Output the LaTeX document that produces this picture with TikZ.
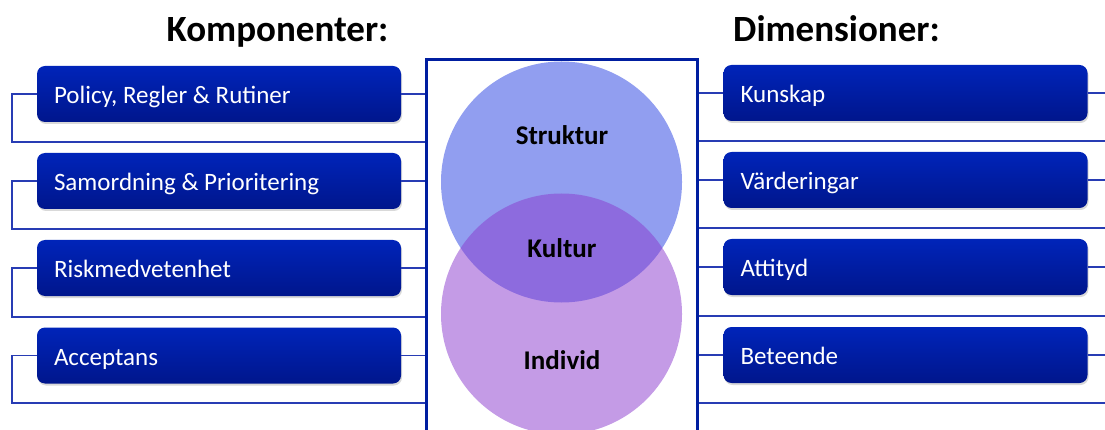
\documentclass[tikz,border=0pt]{standalone}
\usepackage{fontspec}
\setmainfont{Carlito}
\frenchspacing
\usepackage{tikz}
\usetikzlibrary{shapes, arrows, shadows}
\definecolor{boxtop}{RGB}{0,36,185}
\definecolor{boxbottom}{RGB}{0,22,140}
\definecolor{linjeblue}{RGB}{40,60,180}
\definecolor{ramblue}{RGB}{0,30,160}
\definecolor{strukturcol}{RGB}{145,158,240}
\definecolor{individcol}{RGB}{139,59,206}
\tikzstyle{rubrik} = [font=\fontsize{37}{40}\selectfont\bfseries, inner sep=0pt, anchor=base]
\tikzstyle{komp} = [rectangle, rounded corners=8pt, top color=boxtop, bottom color=boxbottom, draw=none,
  text=white, text width=330pt, align=flush left, inner xsep=17pt, inner ysep=0pt, minimum height=56pt,
  text height=19pt, text depth=0pt,
  font=\fontsize{25}{28}\selectfont, drop shadow={shadow xshift=1pt, shadow yshift=-2pt, opacity=.3}]
\tikzstyle{connector} = [draw, color=linjeblue, line width=1.3pt]
\tikzstyle{cirklabel} = [font=\fontsize{27}{30}\selectfont\bfseries, inner sep=0pt]

\begin{document}
\begin{tikzpicture}[x=1pt, y=-1pt]
\useasboundingbox (0,0) rectangle (1105,430);
\clip (0,0) rectangle (1105,430);

\node [rubrik] at (277.5,42) (rubrik_k) {Komponenter:};
\node [rubrik] at (836.5,42) (rubrik_d) {Dimensioner:};

\node [draw=none, minimum width=270pt, minimum height=386pt, inner sep=0pt] at (562,253) (ram) {};

\node [komp] at (219,94) (komp1) {Policy, Regler \& Rutiner};
\node [komp] at (219,181) (komp2) {Samordning \& Prioritering};
\node [komp] at (219,268) (komp3) {Riskmedvetenhet};
\node [komp] at (219,355.5) (komp4) {Acceptans};

\node [komp] at (905.5,93) (dim1) {Kunskap};
\node [komp] at (905.5,180) (dim2) {Värderingar};
\node [komp] at (905.5,267) (dim3) {Attityd};
\node [komp] at (905.5,355) (dim4) {Beteende};

\coordinate (lv1) at (12,142);
\coordinate (lv2) at (12,229);
\coordinate (lv3) at (12,317);
\coordinate (lv4) at (12,403);

\coordinate (rv1) at (1112,141);
\coordinate (rv2) at (1112,228);
\coordinate (rv3) at (1112,316);
\coordinate (rv4) at (1112,403);

\foreach \i in {1,...,4}{
  \path [connector] (komp\i.east) -- (komp\i.east -| ram.west);
  \path [connector] (komp\i.west) -| (lv\i) -- (lv\i -| ram.west);
  \path [connector] (ram.east |- dim\i.west) -- (dim\i.west);
  \path [connector] (dim\i.east) -| (rv\i) -- (rv\i -| ram.east);
}

\path [fill=strukturcol] (561.5,182) circle (120.5);
\path [fill=individcol, fill opacity=.51] (561.5,314) circle (120.5);

\path [draw=ramblue, line width=3pt] (ram.south west) -- (ram.north west) -- (ram.north east) -- (ram.south east);

\node [cirklabel] at (562,135) (struktur) {Struktur};
\node [cirklabel] at (562,248) (kultur) {Kultur};
\node [cirklabel] at (562,360) (individ) {Individ};

\end{tikzpicture}
\end{document}
